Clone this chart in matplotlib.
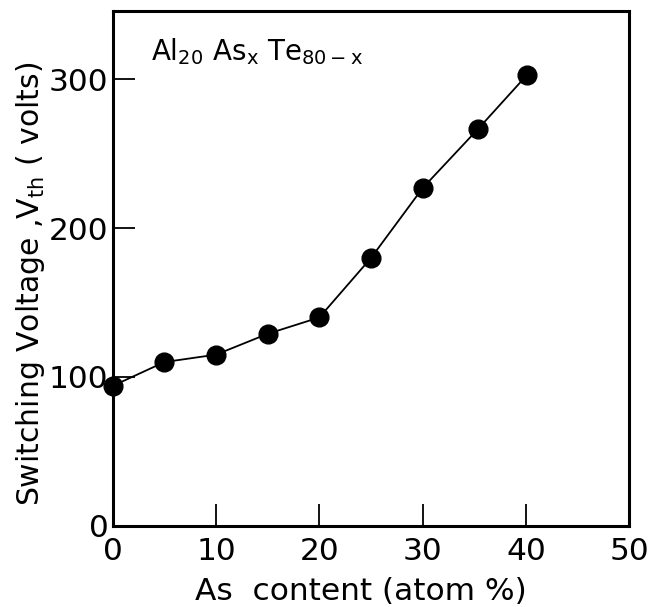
import numpy as np
import matplotlib.pyplot as plt

plt.rcParams['font.family'] = ['DejaVu Sans']
plt.rcParams['mathtext.default'] = 'regular'

# Al20 As_x Te80-x : threshold switching voltage vs As content
as_content = [0, 5, 10, 15, 20, 25, 30, 35.4, 40.1]
v_th = [94, 110, 115, 129, 140, 180, 227, 267, 303]

x_ticks = [0, 10, 20, 30, 40, 50]
y_ticks = [0, 100, 200, 300]

fig = plt.figure(figsize=(6.52, 6.07), dpi=100)
ax = fig.add_axes([0.1729, 0.1339, 0.7923, 0.848])

ax.plot(as_content, v_th, '-', color='black', lw=1.3,
        marker='o', ms=13.5, mfc='black', mec='black', clip_on=False, zorder=3)

ax.set_xlim(0, 50)
ax.set_ylim(0, 346)

for s in ax.spines.values():
    s.set_linewidth(2.2)

ax.set_xticks(x_ticks)
ax.set_yticks(y_ticks)
ax.tick_params(direction='in', length=16, width=1.3, labelsize=22.5)
ax.tick_params(axis='x', pad=8)
ax.tick_params(axis='y', pad=3)

# no tick marks at the corners, only the labels
for t in (ax.xaxis.get_major_ticks()[0], ax.xaxis.get_major_ticks()[-1],
          ax.yaxis.get_major_ticks()[0]):
    t.tick1line.set_visible(False)

ax.set_xlabel('As  content (atom %)', fontsize=22.5)
ax.set_ylabel('Switching Voltage ,V$_{th}$ ( volts)', fontsize=21.5)
ax.yaxis.set_label_coords(-0.128, 0.47)
ax.xaxis.set_label_coords(0.48, -0.1)

ax.text(0.075, 0.905, r'Al$_{20}$ As$_{x}$ Te$_{80-x}$', transform=ax.transAxes,
        fontsize=20, ha='left', va='baseline')

fig.savefig('out.png', dpi=100)
